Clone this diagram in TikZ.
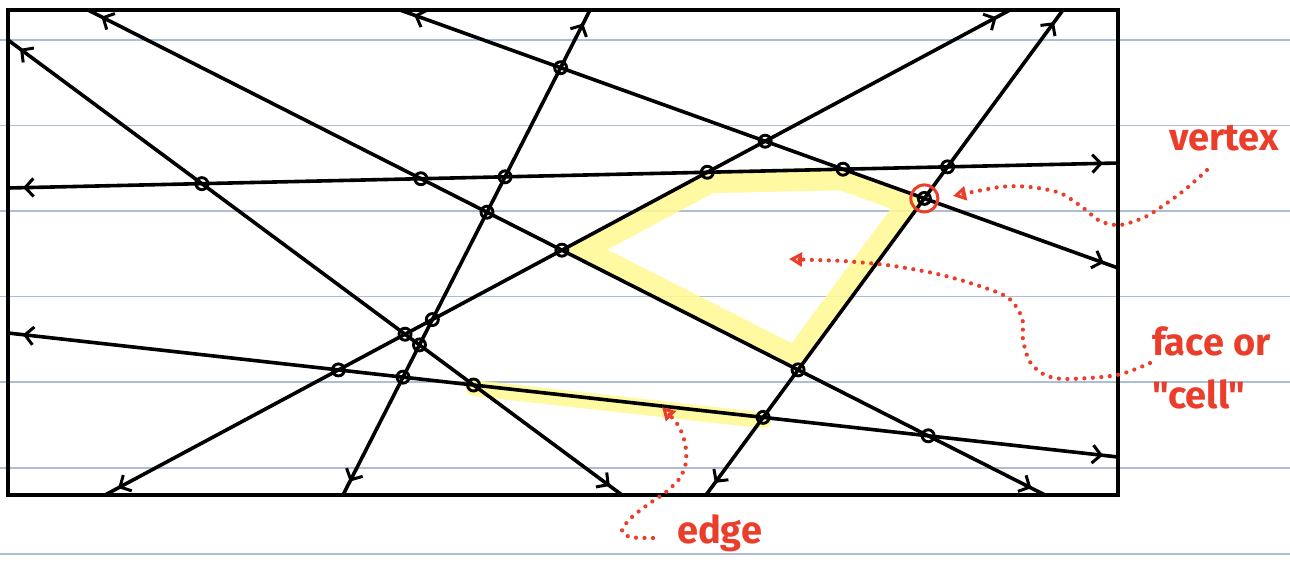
\documentclass[tikz,border=0pt]{standalone}
\usepackage{fontspec}
\newfontfamily\handfont{Fira Sans}
\usetikzlibrary{arrows.meta,intersections,decorations.markings}
\definecolor{rulecol}{RGB}{172,190,214}
\definecolor{hl}{RGB}{255,250,145}
\definecolor{ink}{RGB}{234,62,42}
\tikzset{
  arrline/.style={line width=3.6pt, line cap=round, postaction={decorate},
    decoration={markings,
      mark=at position 15pt with {\arrowreversed{Straight Barb[length=8.5pt,width=18pt,line width=3pt]}},
      mark=at position -15pt with {\arrow{Straight Barb[length=8.5pt,width=18pt,line width=3pt]}}}},
  vtx/.style={circle, draw, line width=2.9pt, minimum size=12pt, inner sep=0pt},
  dotline/.style={draw=ink, line width=4.2pt, line cap=round, dash pattern=on 0pt off 8.5pt},
  redtip/.style={-{Triangle[open,length=13pt,width=14pt,line width=3pt]}},
  lbl/.style={text=ink, font=\handfont\bfseries\fontsize{38}{42}\selectfont, inner sep=0pt},
  ruled/.style={draw=rulecol, line width=1.4pt},
  hlband/.style={draw=hl, opacity=.85},
}
\begin{document}
\begin{tikzpicture}[x=1pt,y=-1pt]
\useasboundingbox (0,0) rectangle (1290,563);
\fill[white] (0,0) rectangle (1290,563);
\foreach \y in {40,125.5,211,296.5,382,468,554} \draw[ruled] (0,\y) -- (1290,\y);

% line end points on the frame
\coordinate (a1) at (88,10);   \coordinate (b1) at (1045,495);
\coordinate (a2) at (8,40);    \coordinate (b2) at (622,495);
\coordinate (a3) at (8,188);   \coordinate (b3) at (1118,163);
\coordinate (a4) at (8,333);   \coordinate (b4) at (1118,457);
\coordinate (a5) at (105,495); \coordinate (b5) at (1010,10);
\coordinate (a6) at (343,495); \coordinate (b6) at (590,10);
\coordinate (a7) at (400,10);  \coordinate (b7) at (1118,268);
\coordinate (a8) at (706,495); \coordinate (b8) at (1063,10);
\foreach \i in {1,...,8} \path[name path global=L\i] (a\i) -- (b\i);

% vertices
\path[name intersections={of=L1 and L3, by=v13}];
\path[name intersections={of=L2 and L3, by=v23}];
\path[name intersections={of=L3 and L5, by=v35}];
\path[name intersections={of=L3 and L6, by=v36}];
\path[name intersections={of=L3 and L7, by=v37}];
\path[name intersections={of=L3 and L8, by=v38}];
\path[name intersections={of=L1 and L4, by=v14}];
\path[name intersections={of=L2 and L4, by=v24}];
\path[name intersections={of=L4 and L5, by=v45}];
\path[name intersections={of=L4 and L6, by=v46}];
\path[name intersections={of=L4 and L8, by=v48}];
\path[name intersections={of=L5 and L7, by=v57}];
\path[name intersections={of=L6 and L7, by=v67}];
\path[name intersections={of=L7 and L8, by=v78}];
\path[name intersections={of=L1 and L5, by=v15}];
\path[name intersections={of=L1 and L6, by=v16}];
\path[name intersections={of=L1 and L8, by=v18}];
\path[name intersections={of=L2 and L5, by=v25}];
\path[name intersections={of=L2 and L6, by=v26}];
\path[name intersections={of=L5 and L6, by=v56}];

% highlighted face and edge
\begin{scope}
  \clip (v15) -- (v35) -- (v37) -- (v78) -- (v18) -- cycle;
  \draw[hlband, line width=42pt, line join=round] (v15) -- (v35) -- (v37) -- (v78) -- (v18) -- cycle;
\end{scope}
\draw[hlband, line width=16pt, line cap=round] ([yshift=-3pt]v24) -- ([yshift=-3pt]v48);

% lines of the arrangement
\foreach \i in {1,...,8} \draw[arrline] (a\i) -- (b\i);
\draw[line width=4.2pt] (8,10) rectangle (1118,495);

\foreach \v in {13,23,35,36,37,38,14,24,45,46,48,57,67,78,15,16,18,25,26,56}
  \node[vtx] (n\v) at (v\v) {};

% annotations
\node[circle, draw=ink, line width=3pt, minimum size=27pt, inner sep=0pt] (vring) at (v78) {};
\node[lbl, anchor=base west] (tv) at (1169,150) {vertex};
\node[lbl, anchor=base west] (tf) at (1152,355) {face or};
\node[lbl, anchor=base west] (tc) at (1152,408) {"cell"};
\node[lbl, anchor=base west] (te) at (677,543) {edge};

\coordinate (sv) at (1207,170);  \coordinate (tvp) at (953,196);
\coordinate (sf) at (1150,363);  \coordinate (tfp) at (789,259);
\coordinate (se) at (653,538);   \coordinate (tep) at (662,407);

\draw[dotline, redtip] plot[smooth] coordinates {(sv) (1187,188) (1167,203) (1145,217) (1120,225) (1100,221) (1082,207) (1060,193) (1030,187) (1000,187) (tvp)};
\draw[dotline, redtip] plot[smooth] coordinates {(sf) (1117,375) (1067,379) (1045,375) (1030,362) (1023,340) (1022,318) (1007,297) (967,282) (933,273) (900,267) (878,264) (843,261) (815,260) (tfp)};
\draw[dotline, redtip] plot[smooth] coordinates {(se) (630,537) (622,530) (632,517) (650,503) (666,492) (680,478) (686,462) (685,443) (678,425) (tep)};
\end{tikzpicture}
\end{document}
